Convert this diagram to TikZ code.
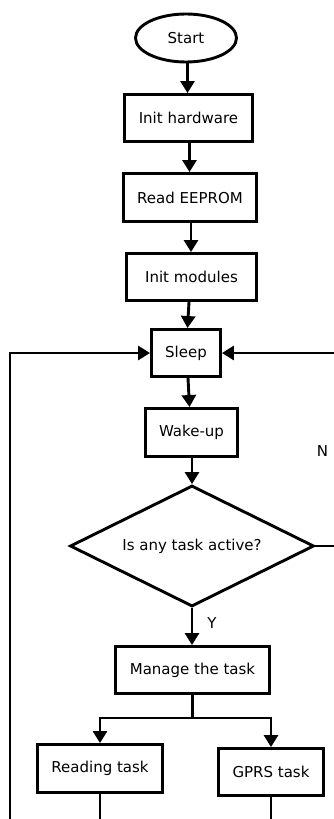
\documentclass[tikz,border=0pt]{standalone}
\usepackage{fontspec}
\setmainfont{DejaVu Sans}
\usetikzlibrary{shapes.geometric,arrows.meta}
\begin{document}
\begin{tikzpicture}[x=1pt,y=-1pt,
  every node/.style={font=\fontsize{15pt}{18pt}\selectfont, inner sep=0pt},
  box/.style={draw, line width=2.9pt, rectangle},
  term/.style={draw, line width=2.9pt, ellipse},
  decision/.style={draw, line width=2.9pt, diamond, aspect=2},
  conn/.style={line width=2.9pt, -{Triangle[length=12pt,width=14pt]}},
  plain/.style={line width=2.9pt},
  lbl/.style={font=\fontsize{15pt}{18pt}\selectfont}]
\useasboundingbox[fill=white] (0,0) rectangle (333,819);
\node[term, minimum width=101pt, minimum height=48pt] (start) at (186,38) {Start};
\node[box, minimum width=128pt, minimum height=47pt] (hw) at (188.5,118) {Init hardware};
\node[box, minimum width=133pt, minimum height=48pt] (eeprom) at (190,197.5) {Read EEPROM};
\node[box, minimum width=130pt, minimum height=47pt] (modules) at (191.5,277) {Init modules};
\node[box, minimum width=69pt, minimum height=47pt] (sleep) at (186,353) {Sleep};
\node[box, minimum width=92pt, minimum height=48pt] (wake) at (191.5,432.5) {Wake-up};
\node[decision, minimum width=244pt, minimum height=121pt] (dia) at (192,546) {Is any task active?};
\node[box, minimum width=154pt, minimum height=47pt] (manage) at (192.5,670) {Manage the task};
\node[box, minimum width=125pt, minimum height=48pt] (reading) at (100,768.5) {Reading task};
\node[box, minimum width=105pt, minimum height=47pt] (gprs) at (271,772) {GPRS task};
\node[lbl] (nlabel) at (322.5,451.5) {N};
\node[lbl] (ylabel) at (212,623) {Y};
\coordinate (split) at (192.5,718);
\coordinate (leftbot) at (10,822);
\coordinate (lefttop) at (10,353);
\coordinate (rightdia) at (336,546);
\coordinate (righttop) at (336,353);
\coordinate (readbot) at (100,822);
\coordinate (gprsbot) at (271,822);
\draw[conn] (start.south -| 187.5,0) -- (hw.north -| 187.5,0);
\draw[conn] (hw.south -| 189.5,0) -- (eeprom.north -| 189.5,0);
\draw[conn] (eeprom.south -| 191,0) -- (modules.north -| 191,0);
\draw[conn] (modules.south -| 189,0) -- (sleep.north -| 187.5,0);
\draw[conn] (sleep.south -| 188,0) -- (wake.north -| 189.5,0);
\draw[conn] (wake.south -| dia.north) -- (dia.north);
\draw[conn] (dia.south) -- (manage.north -| dia.south);
\draw[plain] (manage.south) -- (split);
\draw[conn] (split) -| (reading.north);
\draw[conn] (split) -| (gprs.north);
\draw[plain] (reading.south) -- (readbot);
\draw[plain] (gprs.south) -- (gprsbot);
\draw[conn] (leftbot) -- (lefttop) -- (sleep.west);
\draw[plain] (dia.east) -- (rightdia);
\draw[conn] (righttop) -- (sleep.east);
\end{tikzpicture}
\end{document}
